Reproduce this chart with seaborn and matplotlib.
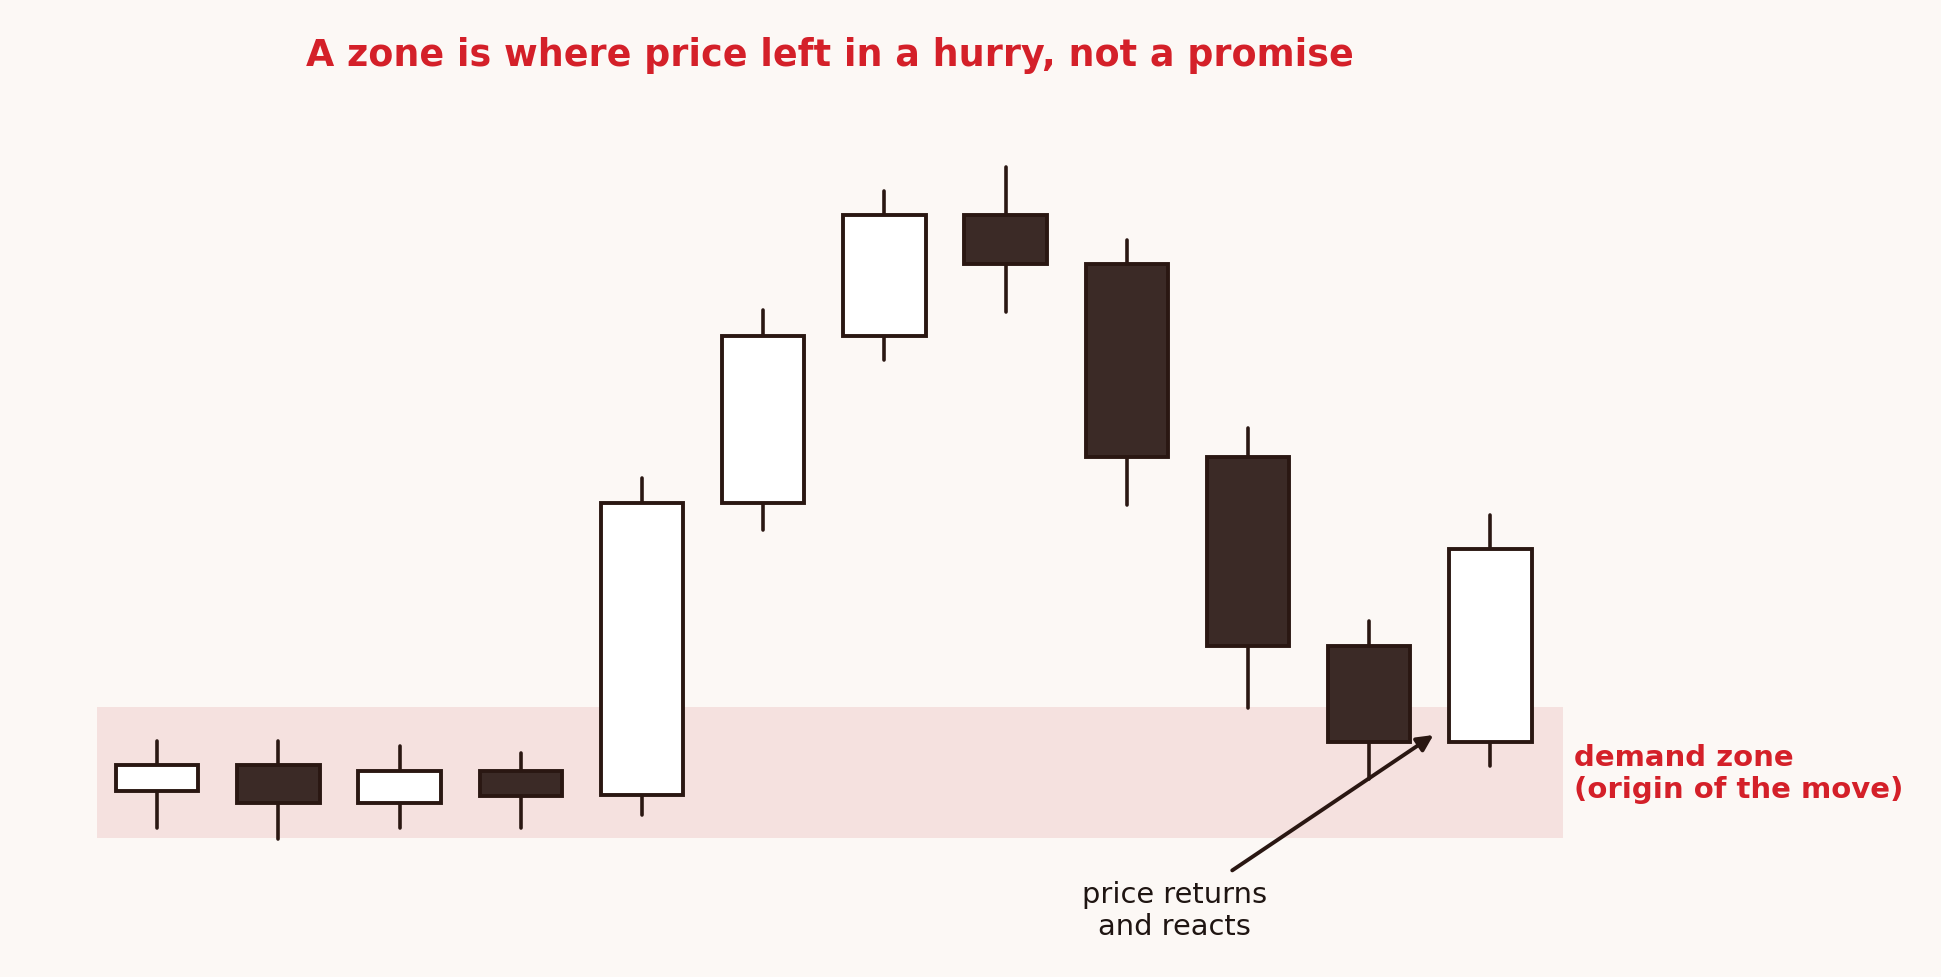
import numpy as np
import seaborn as sns
import matplotlib
matplotlib.use("Agg")
import matplotlib.pyplot as plt

# Candle data (index, open, high, low, close)
candle_idx = list(range(12))
opens = [100.0, 100.52, 99.74, 100.41, 99.9, 105.96, 109.4, 111.9, 110.9, 106.9, 103.0, 101.0]
highs = [101.03, 101.03, 100.93, 100.77, 106.46, 109.95, 112.4, 112.9, 111.4, 107.5, 103.5, 105.7]
lows = [99.23, 98.99, 99.23, 99.23, 99.5, 105.4, 108.9, 109.9, 105.9, 101.7, 100.25, 100.5]
closes = [100.52, 99.74, 100.41, 99.88, 105.96, 109.4, 111.9, 110.9, 106.9, 103.0, 101.0, 105.0]

# demand zone bounds
zone_low, zone_high = 99.02, 101.74
zone_x = [-0.5, 11.6]

title = "A zone is where price left in a hurry, not a promise"
zone_label = "demand zone\n(origin of the move)"
react_label = "price returns\nand reacts"

BG = "#fcf8f5"
ZONE = "#f5e1df"
DARK = "#3b2a26"
EDGE = "#2a1712"
RED = "#d42029"

sns.set_theme(style="white")
plt.rcParams["font.family"] = ["DejaVu Sans"]

fig = plt.figure(figsize=(19.41, 9.78), dpi=100, facecolor=BG)
ax = fig.add_axes([0, 0, 1, 1])
ax.set_facecolor(BG)
ax.set_xlim(-1.297, 14.718)
ax.set_ylim(96.145, 116.375)
ax.set_axis_off()

# zone band
ax.fill_between(zone_x, zone_low, zone_high, color=ZONE, lw=0, zorder=0)

o = np.array(opens)
c = np.array(closes)
bull = c >= o
fills = ["#ffffff" if b else DARK for b in bull]

# wicks
ax.vlines(candle_idx, lows, highs, color=EDGE, lw=2.6, zorder=2, capstyle="round")
# bodies
ax.bar(candle_idx, np.abs(c - o), bottom=np.minimum(o, c), width=0.68,
       color=fills, edgecolor=EDGE, linewidth=2.8, zorder=3)

# arrow + labels
ax.annotate("", xy=(10.53, 101.15), xytext=(8.87, 98.35),
            arrowprops=dict(arrowstyle="-|>", lw=2.8, color=EDGE, mutation_scale=24,
                            shrinkA=0, shrinkB=0), zorder=4)
ax.text(8.396, 98.15, react_label, ha="center", va="top", fontsize=20.8, color="#1f1512",
        linespacing=1.2)
ax.text(11.69, 100.37, zone_label, ha="left", va="center", fontsize=21, color=RED,
        fontweight="bold", linespacing=1.2)

fig.text(0.4274, 0.9435, title, ha="center", va="center", fontsize=26.3, color=RED,
         fontweight="bold")

fig.savefig("out.png", dpi=100, facecolor=BG)
